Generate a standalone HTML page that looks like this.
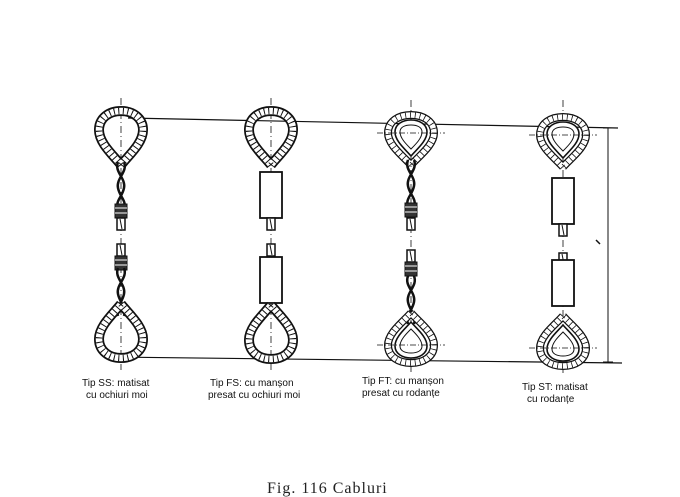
<!DOCTYPE html>
<html><head><meta charset="utf-8"><style>
html,body{margin:0;padding:0;background:#fff;width:680px;height:497px;overflow:hidden}
svg{display:block}
.lbl{font-family:"Liberation Sans",sans-serif;font-size:10px;fill:#111}
.cap{font-family:"Liberation Serif",serif;font-size:16px;fill:#222;letter-spacing:1px}
</style></head><body>
<svg width="680" height="497" viewBox="0 0 680 497" xmlns="http://www.w3.org/2000/svg">
<defs>
  <path id="tdrop" d="M0,54 C-8,44 -22,32 -22,19 C-22,7 -12,0 0,0 C12,0 22,7 22,19 C22,32 8,44 0,54"/>
  <path id="tdrop2" d="M0,50 C-8,41 -23,30 -23,18 C-23,6 -12,0 0,0 C12,0 23,6 23,18 C23,30 8,41 0,50"/>
  <g id="softloop">
    <use href="#tdrop" fill="none" stroke="#111" stroke-width="10"/>
    <use href="#tdrop" fill="none" stroke="#fff" stroke-width="6.5"/>
    <use href="#tdrop" fill="none" stroke="#111" stroke-width="6.5" stroke-dasharray="1 3.5"/>
  </g>
  <g id="thimloop">
    <use href="#tdrop2" fill="none" stroke="#111" stroke-width="8"/>
    <use href="#tdrop2" fill="none" stroke="#fff" stroke-width="5.5"/>
    <use href="#tdrop2" fill="none" stroke="#111" stroke-width="5.5" stroke-dasharray="0.8 4"/>
    <path d="M0,41 C-6,34 -16,26 -16,17 C-16,9 -8,5 0,5 C8,5 16,9 16,17 C16,26 6,34 0,41Z" fill="#fff" stroke="#111" stroke-width="1.6"/>
    <path d="M0,34 C-5,29 -11,23 -11,17 C-11,12 -6,10 0,10 C6,10 11,12 11,17 C11,23 5,29 0,34Z" fill="none" stroke="#111" stroke-width="1"/>
    <line x1="-34" y1="18" x2="34" y2="18" stroke="#111" stroke-width="0.8" stroke-dasharray="6 2 1 2"/>
  </g>
  <g id="splice">
    <path d="M-3,0 C-7,10 5,16 3,26 C1,36 -6,38 -3,48" fill="none" stroke="#111" stroke-width="2.5"/>
    <path d="M3,0 C7,10 -5,16 -3,26 C-1,36 6,38 3,48" fill="none" stroke="#111" stroke-width="2.5"/>
  </g>
  <g id="wrap">
    <rect x="-6" y="0" width="12" height="14" fill="#333" stroke="#111"/>
    <line x1="-6" y1="4" x2="6" y2="4" stroke="#fff" stroke-width="1"/>
    <line x1="-6" y1="9" x2="6" y2="9" stroke="#fff" stroke-width="1"/>
  </g>
  <g id="tail">
    <rect x="-4" y="0" width="8" height="12" fill="#fff" stroke="#111" stroke-width="1.5"/>
    <line x1="-1" y1="1" x2="1" y2="11" stroke="#111"/>
  </g>
  <g id="sleeve">
    <rect x="-11" y="0" width="22" height="46" fill="#fff" stroke="#111" stroke-width="1.8"/>
  </g>
</defs>

<line x1="128" y1="118" x2="618" y2="128" stroke="#111" stroke-width="1.2"/>
<line x1="112" y1="357" x2="622" y2="363" stroke="#111" stroke-width="1.2"/>
<line x1="608" y1="128" x2="608" y2="362" stroke="#111" stroke-width="1"/>
<line x1="603" y1="128" x2="613" y2="128" stroke="#111"/>
<line x1="603" y1="362" x2="613" y2="362" stroke="#111"/>
<line x1="596" y1="240" x2="600" y2="244" stroke="#111" stroke-width="1.5"/>

<g stroke="#111" stroke-width="0.8" stroke-dasharray="7 3 1 3">
  <line x1="121" y1="98" x2="121" y2="370"/>
  <line x1="271" y1="98" x2="271" y2="370"/>
  <line x1="411" y1="100" x2="411" y2="372"/>
  <line x1="563" y1="100" x2="563" y2="374"/>
</g>

<use href="#softloop" x="121" y="111"/>
<use href="#splice" x="121" y="162"/>
<use href="#wrap" x="121" y="204"/>
<use href="#tail" x="121" y="218"/>
<use href="#tail" x="121" y="244"/>
<use href="#wrap" x="121" y="256"/>
<use href="#splice" x="121" y="268"/>
<use href="#softloop" transform="translate(121,358) scale(1,-1)"/>

<use href="#softloop" x="271" y="111"/>
<use href="#sleeve" x="271" y="172"/>
<use href="#tail" x="271" y="218"/>
<use href="#tail" x="271" y="244"/>
<use href="#sleeve" x="271" y="257"/>
<use href="#softloop" transform="translate(271,359) scale(1,-1)"/>

<use href="#thimloop" x="411" y="115"/>
<use href="#splice" x="411" y="160"/>
<use href="#wrap" x="411" y="203"/>
<use href="#tail" x="411" y="218"/>
<use href="#tail" x="411" y="250"/>
<use href="#wrap" x="411" y="262"/>
<use href="#splice" x="411" y="276"/>
<use href="#thimloop" transform="translate(411,363) scale(1,-1)"/>

<use href="#thimloop" x="563" y="117"/>
<use href="#sleeve" x="563" y="178"/>
<use href="#tail" x="563" y="224"/>
<use href="#tail" x="563" y="253"/>
<use href="#sleeve" x="563" y="260"/>
<use href="#thimloop" transform="translate(563,366) scale(1,-1)"/>

<text class="lbl" x="82" y="386">Tip SS: matisat</text>
<text class="lbl" x="86" y="398">cu ochiuri moi</text>
<text class="lbl" x="210" y="386">Tip FS: cu manșon</text>
<text class="lbl" x="208" y="398">presat cu ochiuri moi</text>
<text class="lbl" x="362" y="384">Tip FT: cu manșon</text>
<text class="lbl" x="362" y="396">presat cu rodanțe</text>
<text class="lbl" x="522" y="390">Tip ST: matisat</text>
<text class="lbl" x="527" y="402">cu rodanțe</text>

<text class="cap" x="267" y="493">Fig. 116  Cabluri</text>
</svg>
</body></html>
